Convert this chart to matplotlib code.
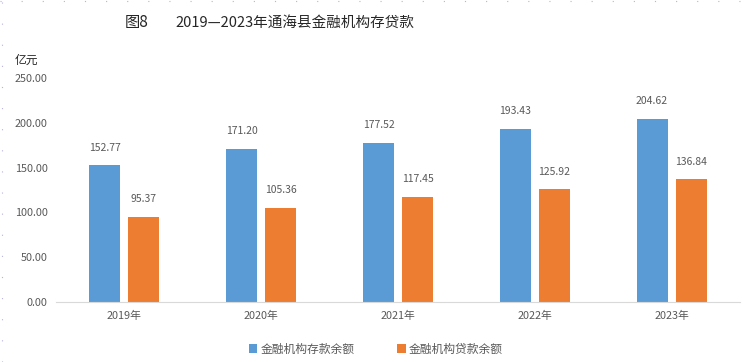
import numpy as np
import matplotlib.pyplot as plt
from matplotlib.lines import Line2D

plt.rcParams['font.family'] = ['Noto Sans CJK SC', 'DejaVu Sans']

years = ['2019年', '2020年', '2021年', '2022年', '2023年']
deposits = [152.77, 171.20, 177.52, 193.43, 204.62]
loans = [95.37, 105.36, 117.45, 125.92, 136.84]
yticks = [0, 50, 100, 150, 200, 250]

blue = '#5B9BD5'
orange = '#ED7D31'
grey = '#595959'

fig = plt.figure(figsize=(7.56, 3.62), dpi=100)
ax = fig.add_axes([56 / 756, 60 / 362, 684 / 756, 224 / 362])

x = np.arange(len(years))
w = 0.227
off = (w + 0.058) / 2
b1 = ax.bar(x - off, deposits, w, color=blue, label='金融机构存款余额')
b2 = ax.bar(x + off, loans, w, color=orange, label='金融机构贷款余额')

for bars, vals in [(b1, deposits), (b2, loans)]:
    for r, v in zip(bars, vals):
        ax.annotate(f'{v:.2f}', (r.get_x() + r.get_width() / 2, v),
                    xytext=(0, 9), textcoords='offset points',
                    ha='center', va='bottom', fontsize=7.5, color=grey)

ax.set_xlim(-0.5, len(years) - 0.5)
ax.set_ylim(0, 250)
ax.set_yticks(yticks)
ax.set_yticklabels([f'{t:.2f}' for t in yticks], fontsize=7.8, color=grey)
ax.set_xticks(x)
ax.set_xticklabels(years, fontsize=7.8, color=grey)
ax.tick_params(length=0, pad=6)
for s in ['top', 'right', 'left']:
    ax.spines[s].set_visible(False)
ax.spines['bottom'].set_color('#D9D9D9')

fig.text(137 / 756, 1 - 23 / 362, '图8', fontsize=11, ha='center', va='center', color='#262626')
fig.text(295 / 756, 1 - 23 / 362, '2019—2023年通海县金融机构存贷款', fontsize=10.5,
         ha='center', va='center', color='#262626')
fig.text(26 / 756, 1 - 60 / 362, '亿元', fontsize=8.5, ha='center', va='center', color='#262626')

fig.legend(handles=[b1, b2], loc='center', bbox_to_anchor=(376 / 756, 1 - 349 / 362),
           ncol=2, frameon=False, fontsize=8.5, labelcolor=grey,
           handlelength=0.7, handleheight=0.7, columnspacing=3.6, handletextpad=0.3)

# faint dashed page border
fig.add_artist(Line2D([2 / 756, 2 / 756], [0, 1], transform=fig.transFigure,
                      color='#B4B4E0', lw=0.8, ls=(0, (1, 18))))
fig.add_artist(Line2D([0, 1], [1 - 1 / 362, 1 - 1 / 362], transform=fig.transFigure,
                      color='#B4B4E0', lw=0.8, ls=(0, (1, 18))))

fig.savefig('out.png', dpi=100)
